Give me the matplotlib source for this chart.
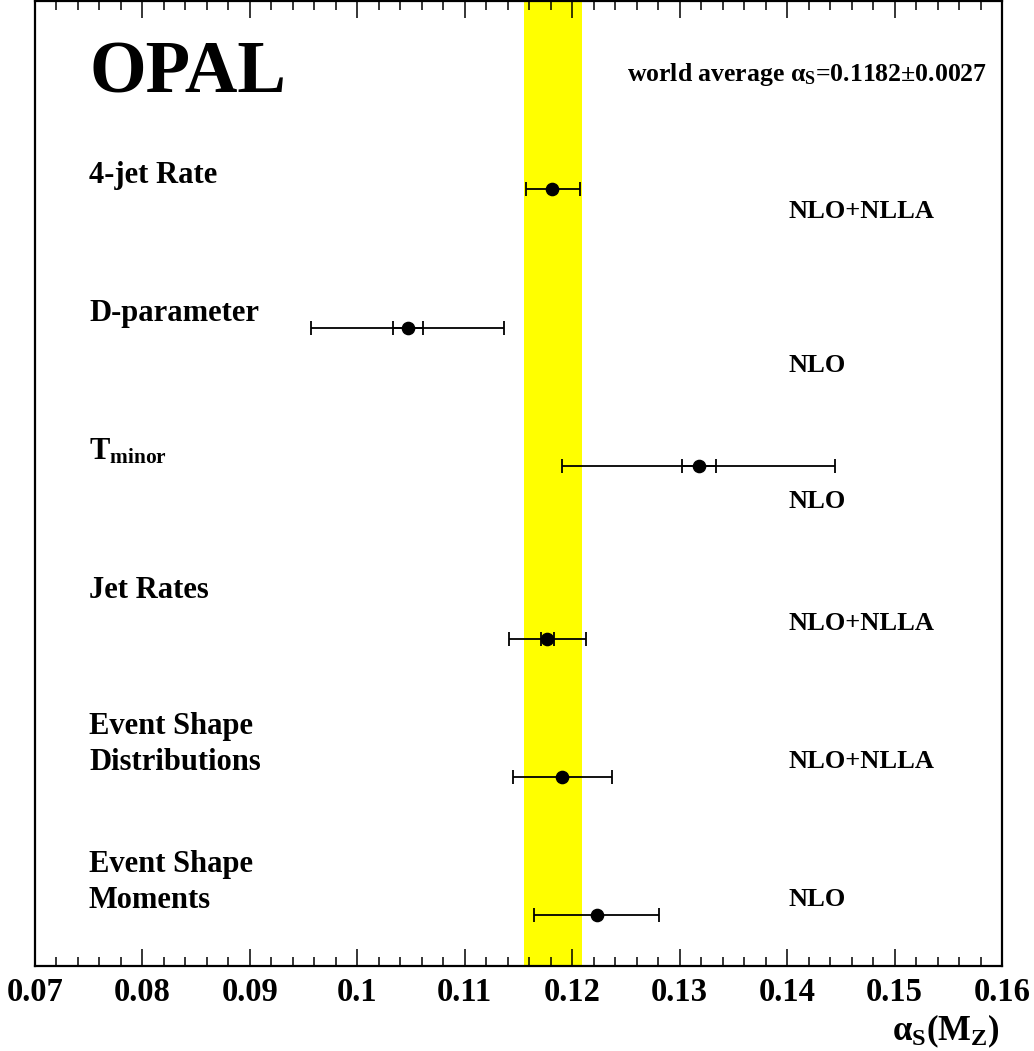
import matplotlib
matplotlib.use("Agg")
import matplotlib.pyplot as plt
from matplotlib.ticker import MultipleLocator
import numpy as np

plt.rcParams['font.family'] = ['Liberation Serif', 'DejaVu Serif']
plt.rcParams['font.weight'] = 'bold'
plt.rcParams['mathtext.fontset'] = 'custom'
plt.rcParams['mathtext.rm'] = 'Liberation Serif:bold'
plt.rcParams['mathtext.it'] = 'Liberation Serif:bold'
plt.rcParams['mathtext.bf'] = 'Liberation Serif:bold'
plt.rcParams['mathtext.default'] = 'bf'

# ---- data ----
observables = ['4-jet Rate', 'D-parameter', r'T$_{\mathbf{minor}}$', 'Jet Rates',
               'Event Shape\nDistributions', 'Event Shape\nMoments']
theory = ['NLO+NLLA', 'NLO', 'NLO', 'NLO+NLLA', 'NLO+NLLA', 'NLO']
alpha_s = [0.1181, 0.1047, 0.1318, 0.1177, 0.1191, 0.1223]
err_tot_lo = [0.0024, 0.0090, 0.0127, 0.0036, 0.0046, 0.0058]
err_tot_hi = [0.0026, 0.0090, 0.0127, 0.0036, 0.0046, 0.0058]
err_stat = [np.nan, 0.0014, 0.0016, 0.0006, np.nan, np.nan]
world_avg = 0.1182
world_err = 0.0027

# row layout (vertical positions, inverted axis units)
row_y = [1.885, 3.27, 4.65, 6.38, 7.76, 9.14]
label_y = [1.83, 3.21, 4.59, 5.97, 7.70, 9.08]
theory_y = [2.18, 3.71, 5.07, 6.30, 7.68, 9.06]

fig = plt.figure(figsize=(10.34, 10.51), dpi=100)
ax = fig.add_axes([34.7/1034, 1-965.5/1051, (1002-34.7)/1034, (965.5-0.5)/1051])

ax.axvspan(world_avg - world_err, world_avg + world_err, color='#ffff00', zorder=0, lw=0)

x = np.array(alpha_s)
y = np.array(row_y)
ax.errorbar(x, y, xerr=[err_tot_lo, err_tot_hi], fmt='o', color='black',
            ms=8.8, elinewidth=1.3, capsize=5, capthick=1.3, zorder=3)
st = np.array(err_stat)
m = ~np.isnan(st)
ax.errorbar(x[m], y[m], xerr=st[m], fmt='none', ecolor='black',
            elinewidth=1.3, capsize=5, capthick=1.3, zorder=3)

ax.set_xlim(0.07, 0.16)
ax.set_ylim(9.65, 0)
ax.xaxis.set_minor_locator(MultipleLocator(0.002))
ax.set_xticks(np.arange(0.07, 0.1601, 0.01))
ax.set_xticklabels(['0.07', '0.08', '0.09', '0.1', '0.11', '0.12', '0.13', '0.14', '0.15', '0.16'])
ax.tick_params(axis='x', which='major', direction='in', length=12.5, width=1.1,
               top=True, bottom=True, labelsize=23.5, pad=8)
ax.tick_params(axis='x', which='minor', direction='in', length=6.3, width=1.1,
               top=True, bottom=True)
ax.tick_params(axis='y', left=False, right=False, labelleft=False)
for sp in ax.spines.values():
    sp.set_linewidth(1.6)

for lab, ly in zip(observables, label_y):
    ax.text(0.07505, ly, lab, fontsize=22, fontweight='bold', va='baseline',
            ha='left', linespacing=1.32)
for th, ty in zip(theory, theory_y):
    ax.text(0.1401, ty, th, fontsize=19, fontweight='bold', va='baseline', ha='left')

ax.text(0.0751, 0.92, 'OPAL', fontsize=52.5, fontweight='bold', va='baseline', ha='left')
ax.text(0.1251, 0.80, r'world average $\alpha_{\mathbf{S}}$=0.1182$\pm$0.0027',
        fontsize=18.5, fontweight='bold', va='baseline', ha='left')

fig.text(1000/1034, 1-1040/1051, r'$\alpha_{\mathbf{S}}\mathbf{(M_{Z})}$', fontsize=25,
         ha='right', va='baseline')

fig.savefig('out.png', dpi=100)
